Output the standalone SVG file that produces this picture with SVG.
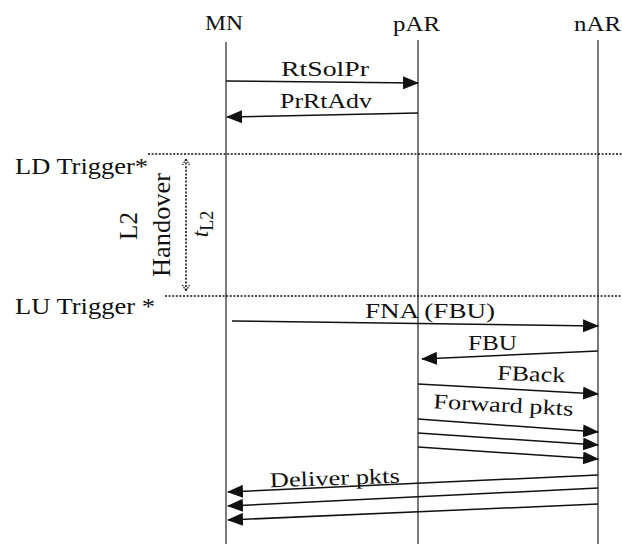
<svg xmlns="http://www.w3.org/2000/svg" width="622" height="544" viewBox="0 0 622 544">
<style>
  text { font-family: "Liberation Serif", "Times New Roman", serif; fill: #111; }
  .head { font-size: 22px; }
  .msg { font-size: 21px; }
  .side { font-size: 24px; }
  .life { stroke: #222; stroke-width: 1.2; fill: none; }
  .arrow { stroke: #111; stroke-width: 1.5; fill: none; marker-end: url(#ah); }
  .dot { stroke: #111; stroke-width: 1.6; stroke-dasharray: 2 1.6; fill: none; }
</style>
<defs>
  <marker id="ah" markerWidth="16" markerHeight="13" refX="15" refY="6.5" orient="auto" markerUnits="userSpaceOnUse">
    <path d="M0,0 L16,6.5 L0,13 z" fill="#111"/>
  </marker>
  <marker id="oh" markerWidth="10" markerHeight="10" refX="7" refY="4" orient="auto-start-reverse" markerUnits="userSpaceOnUse">
    <path d="M1,0.5 L7,4 L1,7.5" fill="none" stroke="#111" stroke-width="1.2" stroke-dasharray="1.5 1"/>
  </marker>
</defs>

<g id="MN">
  <line class="life" x1="226" y1="42" x2="226" y2="544"/>
  <text class="head" x="205" y="30" textLength="38" lengthAdjust="spacingAndGlyphs">MN</text>
</g>
<g id="pAR">
  <line class="life" x1="418" y1="40" x2="418" y2="544"/>
  <text class="head" x="393" y="31" textLength="47" lengthAdjust="spacingAndGlyphs">pAR</text>
</g>
<g id="nAR">
  <line class="life" x1="598" y1="40" x2="598" y2="544"/>
  <text class="head" x="574" y="31" textLength="47" lengthAdjust="spacingAndGlyphs">nAR</text>
</g>

<g id="triggers">
  <line class="dot" x1="148" y1="154" x2="622" y2="154"/>
  <text class="side" x="15" y="174" textLength="133" lengthAdjust="spacingAndGlyphs">LD Trigger*</text>
  <line class="dot" x1="165" y1="296" x2="622" y2="296"/>
  <text class="side" x="15" y="314" textLength="140" lengthAdjust="spacingAndGlyphs">LU Trigger *</text>
</g>

<g id="L2-handover">
  <line class="dot" x1="186" y1="159" x2="186" y2="291" stroke-width="1.3" marker-start="url(#oh)" marker-end="url(#oh)"/>
  <text transform="translate(137,226) rotate(-90)" font-size="25" text-anchor="middle">L2</text>
  <text transform="translate(170,225) rotate(-90)" font-size="25" text-anchor="middle" textLength="104" lengthAdjust="spacingAndGlyphs">Handover</text>
  <text transform="translate(208,224) rotate(-90)" text-anchor="middle"><tspan font-size="23" font-style="italic">t</tspan><tspan font-size="18" dy="5">L2</tspan></text>
</g>

<g id="connectors">
  <line class="arrow" x1="226" y1="81" x2="418" y2="83"/>
  <text class="msg" x="281" y="76" textLength="88" lengthAdjust="spacingAndGlyphs">RtSolPr</text>

  <line class="arrow" x1="418" y1="113" x2="227" y2="117"/>
  <text class="msg" x="280" y="108" textLength="92" lengthAdjust="spacingAndGlyphs">PrRtAdv</text>

  <line class="arrow" x1="232" y1="321" x2="598" y2="326"/>
  <text class="msg" x="365" y="318" textLength="130" lengthAdjust="spacingAndGlyphs">FNA (FBU)</text>

  <line class="arrow" x1="598" y1="351" x2="422" y2="359"/>
  <text class="msg" x="468" y="350" textLength="49" lengthAdjust="spacingAndGlyphs">FBU</text>

  <line class="arrow" x1="418" y1="384" x2="598" y2="394"/>
  <text class="msg" x="497" y="381" textLength="68" lengthAdjust="spacingAndGlyphs" transform="rotate(2 531 381)">FBack</text>

  <line class="arrow" x1="418" y1="419" x2="598" y2="432"/>
  <line class="arrow" x1="418" y1="433" x2="598" y2="445"/>
  <line class="arrow" x1="418" y1="447" x2="598" y2="459"/>
  <text class="msg" x="433" y="412" textLength="140" lengthAdjust="spacingAndGlyphs" transform="rotate(3 503 412)">Forward pkts</text>

  <line class="arrow" x1="598" y1="475" x2="228" y2="492"/>
  <line class="arrow" x1="598" y1="488" x2="228" y2="506"/>
  <line class="arrow" x1="598" y1="504" x2="228" y2="520"/>
  <text class="msg" x="270" y="485" textLength="130" lengthAdjust="spacingAndGlyphs" transform="rotate(-2 335 485)">Deliver pkts</text>
</g>
</svg>
